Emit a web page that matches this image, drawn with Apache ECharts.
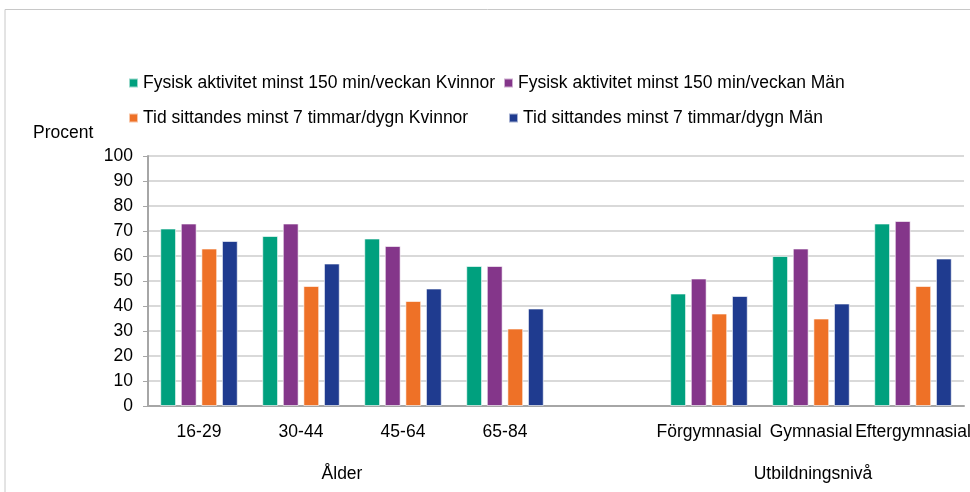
<!DOCTYPE html>
<html>
<head>
<meta charset="utf-8">
<script src="https://cdn.jsdelivr.net/npm/echarts@6/dist/echarts.min.js"></script>
<style>
  html, body { margin: 0; padding: 0; background: #fff; }
  #chart { width: 970px; height: 492px; }
</style>
</head>
<body>
<div id="chart"></div>
<script>
const categories = ["16-29", "30-44", "45-64", "65-84", "", "Förgymnasial", "Gymnasial", "Eftergymnasial"];
const groups = [
    { name: "Ålder", from: 0, to: 3, shift: -10 },
    { name: "Utbildningsnivå", from: 5, to: 7, shift: 2 },
];
const seriesNames = [
    "Fysisk aktivitet minst 150 min/veckan Kvinnor",
    "Fysisk aktivitet minst 150 min/veckan Män",
    "Tid sittandes minst 7 timmar/dygn Kvinnor",
    "Tid sittandes minst 7 timmar/dygn Män",
];
const fysiskKvinnor = [71, 68, 67, 56, null, 45, 60, 73];
const fysiskMan = [73, 73, 64, 56, null, 51, 63, 74];
const sittandeKvinnor = [63, 48, 42, 31, null, 37, 35, 48];
const sittandeMan = [66, 57, 47, 39, null, 44, 41, 59];
const colors = ["#00a07e", "#84368a", "#ee7127", "#1f3b8f"];
const yTicks = [0, 100, 10];

const font = "Liberation Sans";
const fontSize = 17.5;
const values = [fysiskKvinnor, fysiskMan, sittandeKvinnor, sittandeMan];

// one legend per item so the two rows line up like the original
const legendPos = [
    { left: 128, top: 74 },
    { left: 503, top: 74 },
    { left: 128, top: 109 },
    { left: 508, top: 109 },
];

const chart = echarts.init(document.getElementById("chart"));

const option = {
    animation: false,
    color: colors,
    title: {
        text: "Procent",
        left: 33,
        top: 124,
        padding: 0,
        textStyle: { fontFamily: font, fontSize: fontSize, fontWeight: "normal", color: "#000" },
    },
    legend: seriesNames.map((name, i) => ({
        data: [name],
        left: legendPos[i].left,
        top: legendPos[i].top,
        padding: 0,
        itemWidth: 9,
        itemHeight: 9,
        icon: "rect",
        selectedMode: false,
        textStyle: { fontFamily: font, fontSize: fontSize, color: "#000" },
    })),
    grid: { left: 148, right: 6, top: 156, bottom: 86, outerBoundsMode: "none" },
    xAxis: {
        type: "category",
        data: categories,
        axisLine: { lineStyle: { color: "#a6a6a6", width: 2 } },
        axisTick: { show: false },
        axisLabel: { fontFamily: font, fontSize: fontSize, color: "#000", margin: 17, interval: 0 },
    },
    yAxis: {
        type: "value",
        min: yTicks[0],
        max: yTicks[1],
        interval: yTicks[2],
        axisLine: { show: true, lineStyle: { color: "#a6a6a6", width: 2 } },
        axisTick: { show: true, length: 5, lineStyle: { color: "#a6a6a6" } },
        axisLabel: { fontFamily: font, fontSize: fontSize, color: "#000", margin: 15 },
        splitLine: { lineStyle: { color: "#d9d9d9", width: 2 } },
    },
    series: seriesNames.map((name, i) => ({
        name: name,
        type: "bar",
        data: values[i],
        barGap: "30%",
        barCategoryGap: "24%",
        itemStyle: { borderColor: "rgba(255,255,255,0.6)", borderWidth: 1 },
    })),
};

chart.setOption(option);

// frame and group labels under the category labels
const bottomY = chart.convertToPixel({ yAxisIndex: 0 }, 0);
const graphics = [
    {
        type: "polyline",
        shape: { points: [[5, 492], [5, 9.5], [970, 9.5]] },
        style: { stroke: "#c8c8c8", lineWidth: 1, fill: null },
        silent: true,
    },
];
groups.forEach((g) => {
    const x1 = chart.convertToPixel({ xAxisIndex: 0 }, categories[g.from]);
    const x2 = chart.convertToPixel({ xAxisIndex: 0 }, categories[g.to]);
    graphics.push({
        type: "text",
        x: (x1 + x2) / 2 + g.shift,
        y: bottomY + 68,
        style: {
            text: g.name,
            fontFamily: font,
            fontSize: fontSize,
            fill: "#000",
            align: "center",
            verticalAlign: "middle",
        },
    });
});
chart.setOption({ graphic: graphics });
</script>
</body>
</html>
